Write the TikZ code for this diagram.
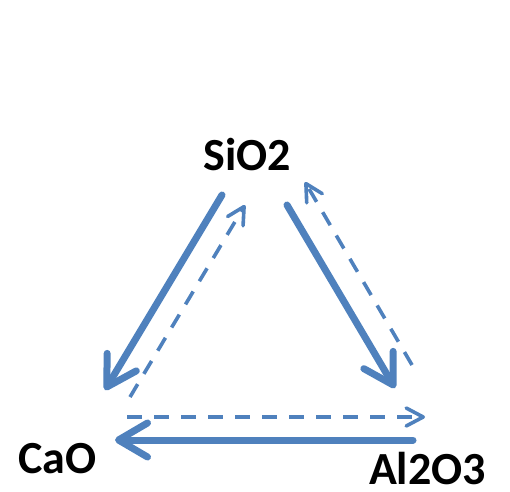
\documentclass[tikz,border=0pt]{standalone}
\usepackage{fontspec}
\setmainfont{Carlito}
\usetikzlibrary{arrows.meta}
\definecolor{flowblue}{RGB}{79,129,189}
\tikzset{
  label/.style={font=\fontsize{46}{55}\selectfont\bfseries, inner sep=0pt, anchor=center},
  bigflow/.style={draw=flowblue, line width=7pt, line cap=round,
    -{Straight Barb[length=29pt, width=34pt, round]}},
  smallflow/.style={draw=flowblue, line width=3.6pt, dash pattern=on 15pt off 12pt,
    -{Straight Barb[length=17pt, width=18pt, round]}},
}
\begin{document}
\begin{tikzpicture}[x=1pt, y=1pt]
  \useasboundingbox (0,0) rectangle (510,491);
  % oxide labels
  \node[label] (sio2) at (247,336.5) {SiO2};
  \node[label] (cao) at (57.5,32) {CaO};
  \node[label] (al2o3) at (427.5,22) {Al2O3};
  % arrow end points
  \coordinate (a1) at (222,296);
  \coordinate (a2) at (105,101);
  \coordinate (b1) at (130,94);
  \coordinate (b2) at (245,286);
  \coordinate (c1) at (287,286);
  \coordinate (c2) at (395,103);
  \coordinate (d1) at (412,126);
  \coordinate (d2) at (305,309);
  \coordinate (e1) at (127,74);
  \coordinate (e2) at (425,74);
  \coordinate (f1) at (413,51);
  \coordinate (f2) at (115,51);
  % flows
  \draw[bigflow] (a1) -- (a2);
  \draw[smallflow] (b1) -- (b2);
  \draw[bigflow] (c1) -- (c2);
  \draw[smallflow] (d1) -- (d2);
  \draw[smallflow] (e1) -- (e2);
  \draw[bigflow] (f1) -- (f2);
\end{tikzpicture}
\end{document}
